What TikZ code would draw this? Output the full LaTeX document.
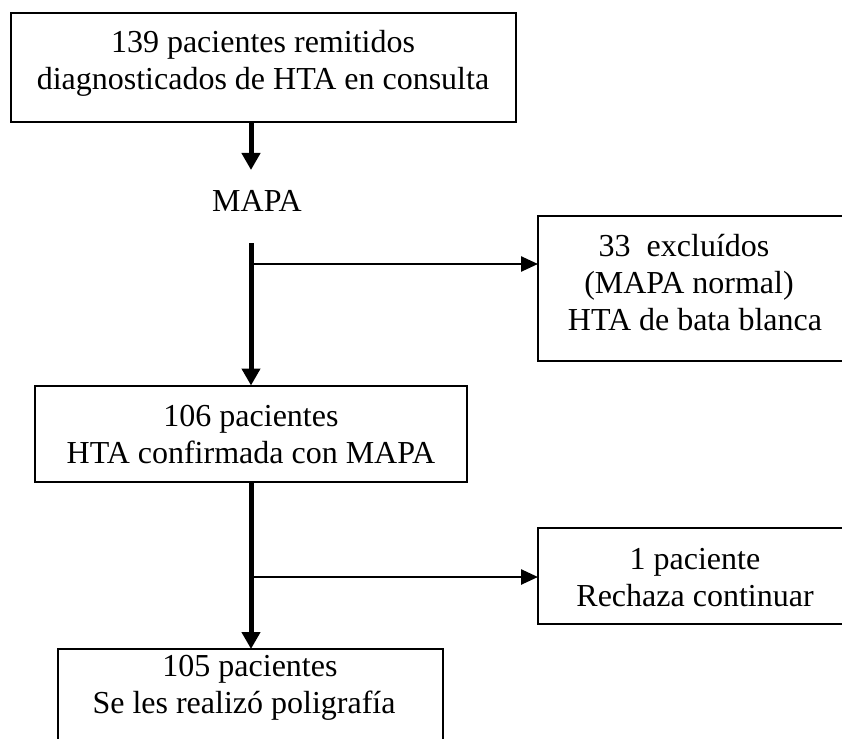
\documentclass[tikz,border=0pt]{standalone}
\usepackage{fontspec}
\setmainfont{Liberation Serif}
\usetikzlibrary{arrows.meta}
\begin{document}
\begin{tikzpicture}[x=1pt,y=-1pt,
  box/.style={draw, line width=2pt, rectangle, inner sep=0pt, outer sep=0pt},
  txt/.style={inner sep=0pt, outer sep=0pt, align=center, font=\fontsize{32}{37}\selectfont},
  thickarrow/.style={line width=5pt, -{Triangle[length=17pt,width=18pt]}},
  thinarrow/.style={line width=2.5pt, -{Triangle[length=17pt,width=15pt]}}]
\useasboundingbox (0,0) rectangle (842,738);
% boxes
\node[box, minimum width=505pt, minimum height=109pt] (b1) at (263.5,67.5) {};
\node[box, minimum width=314pt, minimum height=145pt] (b3) at (695,288.5) {};
\node[box, minimum width=432pt, minimum height=96.5pt] (b2) at (251,433.75) {};
\node[box, minimum width=314pt, minimum height=96pt] (b5) at (695,576) {};
\node[box, minimum width=385pt, minimum height=96pt] (b4) at (250.5,697) {};
% texts
\node[txt] (t1) at (263,63.6) {\strut 139 pacientes remitidos\\ diagnosticados de HTA en consulta\strut};
\node[txt] (mapa) at (257,204.3) {\strut MAPA\strut};
\node[txt] (t3) at (695,285.6) {\strut 33\ \ excluídos\rule{22pt}{0pt}\\ (MAPA normal)\rule{12pt}{0pt}\\ HTA de bata blanca\strut};
\node[txt] (t2) at (251,438) {\strut 106 pacientes\\ HTA confirmada con MAPA\strut};
\node[txt] (t5) at (695,581) {\strut 1 paciente\\ Rechaza continuar\strut};
\node[txt] (t4) at (250,688) {\strut 105 pacientes\\ Se les realizó poligrafía\rule{12pt}{0pt}\strut};
% connector points
\coordinate (spine) at (251,0);
\coordinate (a1e) at (251,170);
\coordinate (l2s) at (251,243);
\coordinate (br1) at (251,264);
\coordinate (br2) at (251,577);
% connectors
\draw[thickarrow] (b1.south -| spine) -- (a1e);
\draw[thickarrow] (l2s) -- (b2.north -| spine);
\draw[thinarrow] (br1) -- (b3.west |- br1);
\draw[thickarrow] (b2.south -| spine) -- (b4.north -| spine);
\draw[thinarrow] (br2) -- (b5.west |- br2);
\end{tikzpicture}
\end{document}
